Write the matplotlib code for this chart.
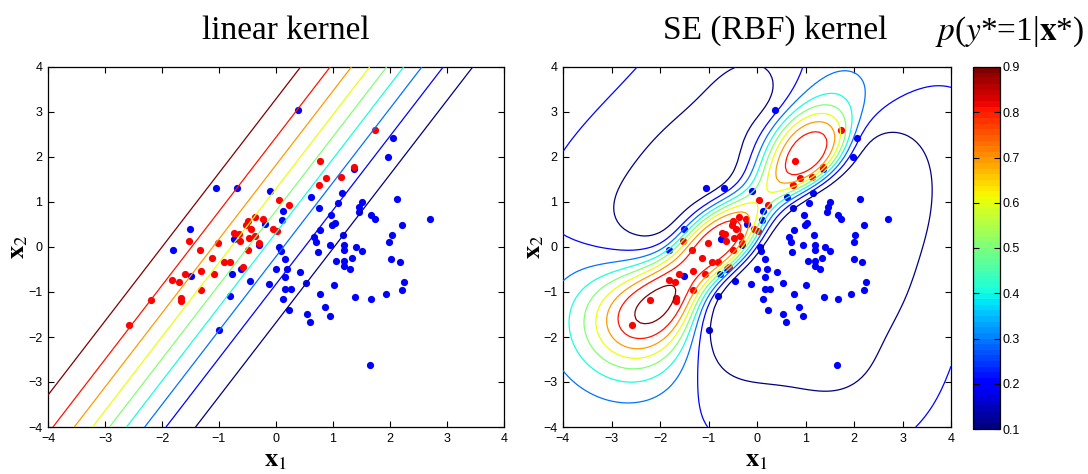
import math
import numpy as np
import matplotlib.pyplot as plt
from matplotlib.colors import Normalize
from matplotlib.cm import ScalarMappable

# class +1 (red) and class -1 (blue) training inputs
red_x1 = [1.73, 0.78, 1.36, 0.88, 1.14, 0.75, 0.05, 0.22, -0.37, -0.23, -0.49, -0.52, -0.43, -0.06,
          0.02, -0.73, -0.65, -0.47, -0.36, -0.63, -0.30, -1.02, -1.52, -1.33, -0.49, -1.13, -0.92,
          -0.80, -0.58, -1.32, -1.60, -1.08, -1.82, -1.70, -1.31, -2.20, -1.67, -1.67, -2.58]
red_x2 = [2.61, 1.91, 1.77, 1.54, 1.56, 1.37, 1.04, 0.93, 0.67, 0.62, 0.57, 0.48, 0.39, 0.41,
          0.36, 0.30, 0.28, 0.21, 0.24, 0.13, 0.09, 0.09, 0.13, -0.06, -0.06, -0.24, -0.33,
          -0.33, -0.45, -0.53, -0.61, -0.61, -0.73, -0.78, -0.96, -1.17, -1.13, -1.20, -1.74]
blue_x1 = [0.38, 2.06, 1.97, 1.36, -1.06, -0.69, -0.10, 0.62, 1.16, 2.13, 1.08, 1.51, 1.46, 1.45,
           0.75, 0.12, 0.11, -0.20, 0.97, 1.67, 1.73, 2.71, 0.98, 1.04, 2.21, -1.51, 0.77, 0.67,
           1.17, 2.03, -0.74, 0.71, 1.99, -0.30, 0.06, 0.08, 0.95, 1.19, 1.20, 1.40, 0.73, 1.50,
           -1.81, 0.16, 1.05, 1.20, 1.34, 2.01, 2.17, 1.20, 1.29, -0.62, 0.00, 0.20, 0.42, -0.77,
           -1.50, 0.16, -0.45, 0.53, -0.12, 1.01, 2.25, 0.16, 0.26, 2.21, 0.77, 1.93, -0.80, 1.38,
           1.67, 0.12, 0.86, 0.22, 0.54, 0.95, 0.59, -1.00, 1.65]
blue_x2 = [3.05, 2.43, 1.99, 1.73, 1.30, 1.30, 1.24, 1.12, 1.19, 1.07, 0.97, 1.00, 0.89, 0.77,
           0.86, 0.81, 0.60, 0.51, 0.70, 0.70, 0.62, 0.62, 0.49, 0.54, 0.48, 0.39, 0.37, 0.23,
           0.27, 0.27, 0.18, 0.11, 0.11, 0.04, 0.00, -0.09, 0.04, 0.05, -0.07, -0.01, -0.11, -0.10,
           -0.06, -0.27, -0.31, -0.31, -0.24, -0.27, -0.33, -0.42, -0.48, -0.48, -0.48, -0.48, -0.56, -0.59,
           -0.64, -0.67, -0.76, -0.80, -0.83, -0.85, -0.78, -0.94, -0.94, -0.95, -1.04, -1.04, -1.08, -1.11,
           -1.16, -1.16, -1.34, -1.39, -1.49, -1.53, -1.67, -1.85, -2.63]

levels = [0.1, 0.2, 0.3, 0.4, 0.5, 0.6, 0.7, 0.8, 0.9]
ticks = [-4, -3, -2, -1, 0, 1, 2, 3, 4]

# linear kernel: probit of a linear function (weights)
lin_w = [-0.849, 0.516]
lin_b = -0.416

# SE (ARD) kernel hyperparameters: length scales, signal std, constant mean
se_ell = [1.1, 1.1]
se_sf = 3.5
se_mean = -2.9

erfc = np.vectorize(math.erfc)


def Phi(z):
    return 0.5 * erfc(-z / np.sqrt(2))


def npdf(z):
    return np.exp(-0.5 * z ** 2) / np.sqrt(2 * np.pi)


def kern(A, B, ell, sf):
    d = ((A[:, None, :] - B[None, :, :]) / np.asarray(ell)) ** 2
    return sf ** 2 * np.exp(-0.5 * d.sum(-1))


def gp_ep(X, y, Xs, ell, sf, m):
    # EP for GP classification with erf likelihood
    n = len(y)
    K = kern(X, X, ell, sf)
    tau = np.zeros(n)
    nu = np.zeros(n)
    Sigma = K.copy()
    mu = np.zeros(n)
    for sweep in range(12):
        for i in range(n):
            tc = 1 / Sigma[i, i] - tau[i]
            nc = mu[i] / Sigma[i, i] - nu[i]
            mc, sc = nc / tc, 1 / tc
            z = y[i] * (mc + m) / np.sqrt(1 + sc)
            r = npdf(z) / (0.5 * math.erfc(-z / math.sqrt(2)))
            mh = mc + y[i] * sc * r / np.sqrt(1 + sc)
            sh = sc - sc ** 2 * r * (z + r) / (1 + sc)
            dtau = max(1 / sh - tc - tau[i], -tau[i])
            tau[i] += dtau
            nu[i] = mh / sh - nc
            si = Sigma[:, i].copy()
            Sigma -= (dtau / (1 + dtau * si[i])) * np.outer(si, si)
            mu = Sigma @ nu
        sW = np.sqrt(tau)
        L = np.linalg.cholesky(np.eye(n) + sW[:, None] * K * sW[None, :])
        V = np.linalg.solve(L, sW[:, None] * K)
        Sigma = K - V.T @ V
        mu = Sigma @ nu
    zz = sW * np.linalg.solve(L.T, np.linalg.solve(L, sW * (K @ nu)))
    Ks = kern(Xs, X, ell, sf)
    fm = m + Ks @ (nu - zz)
    v = np.linalg.solve(L, sW[:, None] * Ks.T)
    var = sf ** 2 - np.sum(v ** 2, 0)
    return Phi(fm / np.sqrt(1 + var))


X = np.column_stack([red_x1 + blue_x1, red_x2 + blue_x2])
y = np.array([1.0] * len(red_x1) + [-1.0] * len(blue_x1))
t = np.linspace(-4, 4, 101)
T1, T2 = np.meshgrid(t, t)
Xs = np.column_stack([T1.ravel(), T2.ravel()])

p_lin = Phi(lin_w[0] * T1 + lin_w[1] * T2 + lin_b)
p_se = gp_ep(X, y, Xs, se_ell, se_sf, se_mean).reshape(T1.shape)

plt.rcParams['mathtext.fontset'] = 'stix'
serif = 'Liberation Serif'
sans = 'Liberation Sans'
cmap = plt.get_cmap('jet', 64)
norm = Normalize(0.1, 0.9)

W, H = 1088, 474
fig = plt.figure(figsize=(W / 100, H / 100), dpi=100)
ax1 = fig.add_axes([48 / W, 47 / H, 456 / W, 360 / H])
ax2 = fig.add_axes([563 / W, 47 / H, 388 / W, 360 / H])
cax = fig.add_axes([973 / W, 45 / H, 27 / W, 362 / H])

for ax, P in [(ax1, p_lin), (ax2, p_se)]:
    ax.plot(blue_x1, blue_x2, 'o', color=(0, 0, 1), ms=5.2, mec='none', zorder=2)
    ax.plot(red_x1, red_x2, 'o', color=(1, 0, 0), ms=5.2, mec='none', zorder=2)
    ax.contour(T1, T2, P, levels=levels, cmap=cmap, norm=norm, linewidths=0.9, zorder=3)
    ax.set_xlim(-4, 4)
    ax.set_ylim(-4, 4)
    ax.set_xticks(ticks)
    ax.set_yticks(ticks)
    ax.tick_params(direction='in', length=4, width=0.8, top=True, right=True, labelsize=9, pad=4)
    for lab in ax.get_xticklabels() + ax.get_yticklabels():
        lab.set_family(sans)
    for s in ax.spines.values():
        s.set_linewidth(0.9)

cb = fig.colorbar(ScalarMappable(norm=norm, cmap=cmap), cax=cax, ticks=levels)
cb.outline.set_linewidth(0.9)
cax.tick_params(direction='in', length=4, width=0.8, left=True, right=True, labelsize=9, pad=2)
cax.set_yticklabels(['%.1f' % v for v in levels], family=sans)

fig.text(286 / W, 1 - 39 / H, 'linear kernel', family=serif, fontsize=24, ha='center', va='baseline')
fig.text(775 / W, 1 - 39 / H, 'SE (RBF) kernel', family=serif, fontsize=24, ha='center', va='baseline')
fig.text(1010 / W, 1 - 40 / H, r'$p$($y$*=1|$\mathbf{x}$*)', family=serif, fontsize=24,
         ha='center', va='baseline')

for cx in [276, 757]:
    fig.text(cx / W, 1 - 466 / H, r'$\mathbf{x}_1$', fontsize=19, ha='center', va='baseline')
for cx in [17, 533]:
    fig.text(cx / W, 1 - 247 / H, r'$\mathbf{x}_2$', fontsize=19, ha='center', va='center', rotation=90)

fig.savefig('out.png', dpi=100)
